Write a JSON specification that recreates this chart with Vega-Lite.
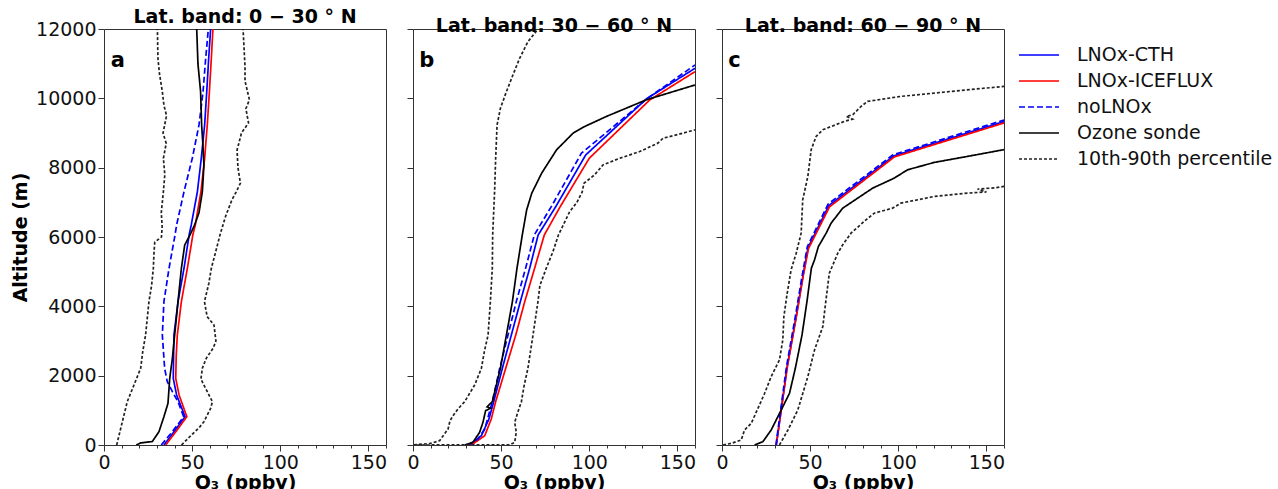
{
  "$schema": "https://vega.github.io/schema/vega-lite/v6.json",
  "padding": {"left": 11, "top": 7, "right": 5, "bottom": 0},
  "background": "white",
  "config": {
    "font": "DejaVu Sans",
    "view": {"stroke": "#333", "strokeWidth": 1},
    "axis": {"labelFont": "DejaVu Sans", "labelFontSize": 19, "labelColor": "#111", "titleFont": "DejaVu Sans", "titleFontSize": 19, "titleFontWeight": "bold", "titleColor": "#000", "grid": false, "domain": false, "tickColor": "#333", "labelOverlap": false},
    "title": {"font": "DejaVu Sans", "fontSize": 19, "fontWeight": "bold", "color": "#000", "offset": -7, "frame": "group", "baseline": "bottom"},
    "legend": {"labelFont": "DejaVu Sans", "labelFontSize": 19, "labelColor": "#111", "symbolType": "M-2,0L2,0", "symbolSize": 400, "labelLimit": 400, "orient": "none", "legendX": 924, "legendY": 15, "rowPadding": 5, "labelOffset": 27, "padding": 0}
  },
  "datasets": {
    "prof": [
      {"p":"a","s":"LNOx-CTH","l":"m","x":34,"y":0},{"p":"a","s":"LNOx-CTH","l":"m","x":40,"y":400},{"p":"a","s":"LNOx-CTH","l":"m","x":46,"y":817},{"p":"a","s":"LNOx-CTH","l":"m","x":41.2,"y":1442},{"p":"a","s":"LNOx-CTH","l":"m","x":39.3,"y":1923},{"p":"a","s":"LNOx-CTH","l":"m","x":39.5,"y":2600},{"p":"a","s":"LNOx-CTH","l":"m","x":39.7,"y":3174},{"p":"a","s":"LNOx-CTH","l":"m","x":42,"y":4136},{"p":"a","s":"LNOx-CTH","l":"m","x":45.4,"y":5098},{"p":"a","s":"LNOx-CTH","l":"m","x":48.3,"y":6058},{"p":"a","s":"LNOx-CTH","l":"m","x":49.5,"y":6347},{"p":"a","s":"LNOx-CTH","l":"m","x":53,"y":7310},{"p":"a","s":"LNOx-CTH","l":"m","x":55.2,"y":8271},{"p":"a","s":"LNOx-CTH","l":"m","x":57.1,"y":9232},{"p":"a","s":"LNOx-CTH","l":"m","x":58.3,"y":10193},{"p":"a","s":"LNOx-CTH","l":"m","x":59.4,"y":11155},{"p":"a","s":"LNOx-CTH","l":"m","x":60.5,"y":12000},
      {"p":"a","s":"LNOx-ICEFLUX","l":"m","x":35,"y":0},{"p":"a","s":"LNOx-ICEFLUX","l":"m","x":41,"y":400},{"p":"a","s":"LNOx-ICEFLUX","l":"m","x":47,"y":817},{"p":"a","s":"LNOx-ICEFLUX","l":"m","x":42.6,"y":1442},{"p":"a","s":"LNOx-ICEFLUX","l":"m","x":40.7,"y":1923},{"p":"a","s":"LNOx-ICEFLUX","l":"m","x":41,"y":2600},{"p":"a","s":"LNOx-ICEFLUX","l":"m","x":41.6,"y":3174},{"p":"a","s":"LNOx-ICEFLUX","l":"m","x":43.9,"y":4136},{"p":"a","s":"LNOx-ICEFLUX","l":"m","x":47.3,"y":5098},{"p":"a","s":"LNOx-ICEFLUX","l":"m","x":50.4,"y":6058},{"p":"a","s":"LNOx-ICEFLUX","l":"m","x":51.8,"y":6347},{"p":"a","s":"LNOx-ICEFLUX","l":"m","x":55,"y":7310},{"p":"a","s":"LNOx-ICEFLUX","l":"m","x":57.1,"y":8271},{"p":"a","s":"LNOx-ICEFLUX","l":"m","x":58.6,"y":9232},{"p":"a","s":"LNOx-ICEFLUX","l":"m","x":59.8,"y":10193},{"p":"a","s":"LNOx-ICEFLUX","l":"m","x":60.9,"y":11155},{"p":"a","s":"LNOx-ICEFLUX","l":"m","x":61.8,"y":12000},
      {"p":"a","s":"noLNOx","l":"m","x":32.5,"y":0},{"p":"a","s":"noLNOx","l":"m","x":39,"y":400},{"p":"a","s":"noLNOx","l":"m","x":45.2,"y":817},{"p":"a","s":"noLNOx","l":"m","x":42,"y":1250},{"p":"a","s":"noLNOx","l":"m","x":38.8,"y":1538},{"p":"a","s":"noLNOx","l":"m","x":35.9,"y":1827},{"p":"a","s":"noLNOx","l":"m","x":34.4,"y":2212},{"p":"a","s":"noLNOx","l":"m","x":33.1,"y":3174},{"p":"a","s":"noLNOx","l":"m","x":34,"y":4136},{"p":"a","s":"noLNOx","l":"m","x":36.9,"y":5098},{"p":"a","s":"noLNOx","l":"m","x":40.3,"y":6058},{"p":"a","s":"noLNOx","l":"m","x":41.2,"y":6347},{"p":"a","s":"noLNOx","l":"m","x":45.4,"y":7310},{"p":"a","s":"noLNOx","l":"m","x":50.1,"y":8271},{"p":"a","s":"noLNOx","l":"m","x":53.9,"y":9232},{"p":"a","s":"noLNOx","l":"m","x":56.2,"y":10193},{"p":"a","s":"noLNOx","l":"m","x":57.7,"y":11155},{"p":"a","s":"noLNOx","l":"m","x":59.2,"y":12000},
      {"p":"a","s":"Ozone sonde","l":"m","x":18.3,"y":0},{"p":"a","s":"Ozone sonde","l":"m","x":20.8,"y":60},{"p":"a","s":"Ozone sonde","l":"m","x":27.4,"y":100},{"p":"a","s":"Ozone sonde","l":"m","x":31.2,"y":384},{"p":"a","s":"Ozone sonde","l":"m","x":34,"y":817},{"p":"a","s":"Ozone sonde","l":"m","x":36.3,"y":1202},{"p":"a","s":"Ozone sonde","l":"m","x":37.3,"y":1923},{"p":"a","s":"Ozone sonde","l":"m","x":38.8,"y":2500},{"p":"a","s":"Ozone sonde","l":"m","x":40.1,"y":3174},{"p":"a","s":"Ozone sonde","l":"m","x":42,"y":4136},{"p":"a","s":"Ozone sonde","l":"m","x":43.9,"y":5098},{"p":"a","s":"Ozone sonde","l":"m","x":45.8,"y":5770},{"p":"a","s":"Ozone sonde","l":"m","x":48.8,"y":6058},{"p":"a","s":"Ozone sonde","l":"m","x":51.4,"y":6347},{"p":"a","s":"Ozone sonde","l":"m","x":53.9,"y":6700},{"p":"a","s":"Ozone sonde","l":"m","x":55.8,"y":7310},{"p":"a","s":"Ozone sonde","l":"m","x":56.7,"y":8079},{"p":"a","s":"Ozone sonde","l":"m","x":56,"y":8752},{"p":"a","s":"Ozone sonde","l":"m","x":55.4,"y":9232},{"p":"a","s":"Ozone sonde","l":"m","x":54.8,"y":10193},{"p":"a","s":"Ozone sonde","l":"m","x":53.3,"y":11000},{"p":"a","s":"Ozone sonde","l":"m","x":52.6,"y":12000},
      {"p":"a","s":"10th-90th percentile","l":"lo","x":7.2,"y":0},{"p":"a","s":"10th-90th percentile","l":"lo","x":9.5,"y":481},{"p":"a","s":"10th-90th percentile","l":"lo","x":13.2,"y":1250},{"p":"a","s":"10th-90th percentile","l":"lo","x":17,"y":1731},{"p":"a","s":"10th-90th percentile","l":"lo","x":20.8,"y":2212},{"p":"a","s":"10th-90th percentile","l":"lo","x":22,"y":2700},{"p":"a","s":"10th-90th percentile","l":"lo","x":23.6,"y":3174},{"p":"a","s":"10th-90th percentile","l":"lo","x":25.5,"y":4136},{"p":"a","s":"10th-90th percentile","l":"lo","x":27,"y":4600},{"p":"a","s":"10th-90th percentile","l":"lo","x":28,"y":5098},{"p":"a","s":"10th-90th percentile","l":"lo","x":28.4,"y":5577},{"p":"a","s":"10th-90th percentile","l":"lo","x":28.8,"y":5850},{"p":"a","s":"10th-90th percentile","l":"lo","x":32.6,"y":6000},{"p":"a","s":"10th-90th percentile","l":"lo","x":33,"y":6300},{"p":"a","s":"10th-90th percentile","l":"lo","x":32.5,"y":6700},{"p":"a","s":"10th-90th percentile","l":"lo","x":33.7,"y":7310},{"p":"a","s":"10th-90th percentile","l":"lo","x":34.5,"y":7800},{"p":"a","s":"10th-90th percentile","l":"lo","x":33.7,"y":8271},{"p":"a","s":"10th-90th percentile","l":"lo","x":35.3,"y":8700},{"p":"a","s":"10th-90th percentile","l":"lo","x":33.5,"y":9000},{"p":"a","s":"10th-90th percentile","l":"lo","x":35.5,"y":9500},{"p":"a","s":"10th-90th percentile","l":"lo","x":34,"y":9800},{"p":"a","s":"10th-90th percentile","l":"lo","x":33.1,"y":10193},{"p":"a","s":"10th-90th percentile","l":"lo","x":31.5,"y":10700},{"p":"a","s":"10th-90th percentile","l":"lo","x":30.6,"y":11155},{"p":"a","s":"10th-90th percentile","l":"lo","x":30.3,"y":12000},
      {"p":"a","s":"10th-90th percentile","l":"hi","x":44,"y":0},{"p":"a","s":"10th-90th percentile","l":"hi","x":49.2,"y":269},{"p":"a","s":"10th-90th percentile","l":"hi","x":54,"y":500},{"p":"a","s":"10th-90th percentile","l":"hi","x":56.7,"y":673},{"p":"a","s":"10th-90th percentile","l":"hi","x":60.5,"y":1058},{"p":"a","s":"10th-90th percentile","l":"hi","x":61.5,"y":1250},{"p":"a","s":"10th-90th percentile","l":"hi","x":58.6,"y":1538},{"p":"a","s":"10th-90th percentile","l":"hi","x":55,"y":1900},{"p":"a","s":"10th-90th percentile","l":"hi","x":55.8,"y":2212},{"p":"a","s":"10th-90th percentile","l":"hi","x":58,"y":2500},{"p":"a","s":"10th-90th percentile","l":"hi","x":62,"y":2800},{"p":"a","s":"10th-90th percentile","l":"hi","x":63.5,"y":3000},{"p":"a","s":"10th-90th percentile","l":"hi","x":62.4,"y":3462},{"p":"a","s":"10th-90th percentile","l":"hi","x":58.5,"y":3705},{"p":"a","s":"10th-90th percentile","l":"hi","x":57,"y":4136},{"p":"a","s":"10th-90th percentile","l":"hi","x":59.5,"y":4667},{"p":"a","s":"10th-90th percentile","l":"hi","x":60.9,"y":5098},{"p":"a","s":"10th-90th percentile","l":"hi","x":63.5,"y":5600},{"p":"a","s":"10th-90th percentile","l":"hi","x":65.8,"y":6058},{"p":"a","s":"10th-90th percentile","l":"hi","x":69,"y":6600},{"p":"a","s":"10th-90th percentile","l":"hi","x":72.6,"y":7073},{"p":"a","s":"10th-90th percentile","l":"hi","x":75,"y":7300},{"p":"a","s":"10th-90th percentile","l":"hi","x":77.4,"y":7554},{"p":"a","s":"10th-90th percentile","l":"hi","x":76,"y":8000},{"p":"a","s":"10th-90th percentile","l":"hi","x":75.5,"y":8517},{"p":"a","s":"10th-90th percentile","l":"hi","x":76.5,"y":8700},{"p":"a","s":"10th-90th percentile","l":"hi","x":78,"y":9000},{"p":"a","s":"10th-90th percentile","l":"hi","x":82,"y":9290},{"p":"a","s":"10th-90th percentile","l":"hi","x":80.5,"y":9700},{"p":"a","s":"10th-90th percentile","l":"hi","x":82.5,"y":9960},{"p":"a","s":"10th-90th percentile","l":"hi","x":80,"y":10500},{"p":"a","s":"10th-90th percentile","l":"hi","x":80,"y":10922},{"p":"a","s":"10th-90th percentile","l":"hi","x":78.9,"y":12000},

      {"p":"b","s":"LNOx-CTH","l":"m","x":32.2,"y":0},{"p":"b","s":"LNOx-CTH","l":"m","x":38.8,"y":269},{"p":"b","s":"LNOx-CTH","l":"m","x":43.1,"y":750},{"p":"b","s":"LNOx-CTH","l":"m","x":45.8,"y":1250},{"p":"b","s":"LNOx-CTH","l":"m","x":50.7,"y":2212},{"p":"b","s":"LNOx-CTH","l":"m","x":55.8,"y":3174},{"p":"b","s":"LNOx-CTH","l":"m","x":60.9,"y":4136},{"p":"b","s":"LNOx-CTH","l":"m","x":66.2,"y":5098},{"p":"b","s":"LNOx-CTH","l":"m","x":71,"y":6058},{"p":"b","s":"LNOx-CTH","l":"m","x":81,"y":6876},{"p":"b","s":"LNOx-CTH","l":"m","x":98,"y":8367},{"p":"b","s":"LNOx-CTH","l":"m","x":132.4,"y":9983},{"p":"b","s":"LNOx-CTH","l":"m","x":160,"y":10866},
      {"p":"b","s":"LNOx-ICEFLUX","l":"m","x":33.1,"y":0},{"p":"b","s":"LNOx-ICEFLUX","l":"m","x":40.7,"y":269},{"p":"b","s":"LNOx-ICEFLUX","l":"m","x":44.4,"y":750},{"p":"b","s":"LNOx-ICEFLUX","l":"m","x":46.9,"y":1250},{"p":"b","s":"LNOx-ICEFLUX","l":"m","x":52.6,"y":2212},{"p":"b","s":"LNOx-ICEFLUX","l":"m","x":58.3,"y":3174},{"p":"b","s":"LNOx-ICEFLUX","l":"m","x":63.4,"y":4136},{"p":"b","s":"LNOx-ICEFLUX","l":"m","x":69,"y":5098},{"p":"b","s":"LNOx-ICEFLUX","l":"m","x":74.5,"y":6058},{"p":"b","s":"LNOx-ICEFLUX","l":"m","x":83.2,"y":6847},{"p":"b","s":"LNOx-ICEFLUX","l":"m","x":100,"y":8271},{"p":"b","s":"LNOx-ICEFLUX","l":"m","x":134.3,"y":9953},{"p":"b","s":"LNOx-ICEFLUX","l":"m","x":160,"y":10770},
      {"p":"b","s":"noLNOx","l":"m","x":31.2,"y":0},{"p":"b","s":"noLNOx","l":"m","x":36.9,"y":173},{"p":"b","s":"noLNOx","l":"m","x":40.7,"y":461},{"p":"b","s":"noLNOx","l":"m","x":45,"y":1250},{"p":"b","s":"noLNOx","l":"m","x":49.2,"y":2212},{"p":"b","s":"noLNOx","l":"m","x":53.9,"y":3174},{"p":"b","s":"noLNOx","l":"m","x":58.6,"y":4136},{"p":"b","s":"noLNOx","l":"m","x":63.9,"y":5098},{"p":"b","s":"noLNOx","l":"m","x":68.8,"y":6058},{"p":"b","s":"noLNOx","l":"m","x":79,"y":6924},{"p":"b","s":"noLNOx","l":"m","x":95.6,"y":8420},{"p":"b","s":"noLNOx","l":"m","x":133,"y":10000},{"p":"b","s":"noLNOx","l":"m","x":160,"y":10962},
      {"p":"b","s":"Ozone sonde","l":"m","x":29.3,"y":0},{"p":"b","s":"Ozone sonde","l":"m","x":34,"y":77},{"p":"b","s":"Ozone sonde","l":"m","x":37.8,"y":366},{"p":"b","s":"Ozone sonde","l":"m","x":39.7,"y":654},{"p":"b","s":"Ozone sonde","l":"m","x":41.2,"y":990},{"p":"b","s":"Ozone sonde","l":"m","x":44,"y":1060},{"p":"b","s":"Ozone sonde","l":"m","x":42,"y":1100},{"p":"b","s":"Ozone sonde","l":"m","x":45,"y":1250},{"p":"b","s":"Ozone sonde","l":"m","x":47.3,"y":1731},{"p":"b","s":"Ozone sonde","l":"m","x":49.6,"y":2212},{"p":"b","s":"Ozone sonde","l":"m","x":53,"y":3174},{"p":"b","s":"Ozone sonde","l":"m","x":56.4,"y":4136},{"p":"b","s":"Ozone sonde","l":"m","x":59,"y":5098},{"p":"b","s":"Ozone sonde","l":"m","x":62,"y":6058},{"p":"b","s":"Ozone sonde","l":"m","x":64.5,"y":6784},{"p":"b","s":"Ozone sonde","l":"m","x":67.4,"y":7265},{"p":"b","s":"Ozone sonde","l":"m","x":73,"y":7842},{"p":"b","s":"Ozone sonde","l":"m","x":81.5,"y":8517},{"p":"b","s":"Ozone sonde","l":"m","x":90.9,"y":8998},{"p":"b","s":"Ozone sonde","l":"m","x":97.5,"y":9190},{"p":"b","s":"Ozone sonde","l":"m","x":109.8,"y":9479},{"p":"b","s":"Ozone sonde","l":"m","x":132.5,"y":9960},{"p":"b","s":"Ozone sonde","l":"m","x":160,"y":10385},
      {"p":"b","s":"10th-90th percentile","l":"lo","x":0.5,"y":8},{"p":"b","s":"10th-90th percentile","l":"lo","x":2,"y":15},{"p":"b","s":"10th-90th percentile","l":"lo","x":9.5,"y":40},{"p":"b","s":"10th-90th percentile","l":"lo","x":15.1,"y":125},{"p":"b","s":"10th-90th percentile","l":"lo","x":19.9,"y":461},{"p":"b","s":"10th-90th percentile","l":"lo","x":21,"y":700},{"p":"b","s":"10th-90th percentile","l":"lo","x":22.7,"y":846},{"p":"b","s":"10th-90th percentile","l":"lo","x":25.5,"y":1039},{"p":"b","s":"10th-90th percentile","l":"lo","x":29.3,"y":1250},{"p":"b","s":"10th-90th percentile","l":"lo","x":35,"y":1731},{"p":"b","s":"10th-90th percentile","l":"lo","x":38.8,"y":2212},{"p":"b","s":"10th-90th percentile","l":"lo","x":40.5,"y":2700},{"p":"b","s":"10th-90th percentile","l":"lo","x":42.6,"y":3174},{"p":"b","s":"10th-90th percentile","l":"lo","x":43.9,"y":4136},{"p":"b","s":"10th-90th percentile","l":"lo","x":45,"y":5098},{"p":"b","s":"10th-90th percentile","l":"lo","x":45.2,"y":6058},{"p":"b","s":"10th-90th percentile","l":"lo","x":46.3,"y":7310},{"p":"b","s":"10th-90th percentile","l":"lo","x":46.9,"y":8271},{"p":"b","s":"10th-90th percentile","l":"lo","x":47.7,"y":9232},{"p":"b","s":"10th-90th percentile","l":"lo","x":49.6,"y":9713},{"p":"b","s":"10th-90th percentile","l":"lo","x":53,"y":10193},{"p":"b","s":"10th-90th percentile","l":"lo","x":56.7,"y":10674},{"p":"b","s":"10th-90th percentile","l":"lo","x":60.5,"y":11155},{"p":"b","s":"10th-90th percentile","l":"lo","x":65.2,"y":11636},{"p":"b","s":"10th-90th percentile","l":"lo","x":71,"y":12000},
      {"p":"b","s":"10th-90th percentile","l":"hi","x":2,"y":0},{"p":"b","s":"10th-90th percentile","l":"hi","x":55,"y":5},{"p":"b","s":"10th-90th percentile","l":"hi","x":57.7,"y":77},{"p":"b","s":"10th-90th percentile","l":"hi","x":58.6,"y":366},{"p":"b","s":"10th-90th percentile","l":"hi","x":57.7,"y":654},{"p":"b","s":"10th-90th percentile","l":"hi","x":59.5,"y":950},{"p":"b","s":"10th-90th percentile","l":"hi","x":61.5,"y":1250},{"p":"b","s":"10th-90th percentile","l":"hi","x":63,"y":1700},{"p":"b","s":"10th-90th percentile","l":"hi","x":65.2,"y":2212},{"p":"b","s":"10th-90th percentile","l":"hi","x":68.1,"y":3174},{"p":"b","s":"10th-90th percentile","l":"hi","x":70.9,"y":4136},{"p":"b","s":"10th-90th percentile","l":"hi","x":72,"y":4600},{"p":"b","s":"10th-90th percentile","l":"hi","x":75.6,"y":5098},{"p":"b","s":"10th-90th percentile","l":"hi","x":79.4,"y":5577},{"p":"b","s":"10th-90th percentile","l":"hi","x":82.5,"y":6058},{"p":"b","s":"10th-90th percentile","l":"hi","x":88.9,"y":6732},{"p":"b","s":"10th-90th percentile","l":"hi","x":93,"y":7000},{"p":"b","s":"10th-90th percentile","l":"hi","x":96,"y":7300},{"p":"b","s":"10th-90th percentile","l":"hi","x":97,"y":7550},{"p":"b","s":"10th-90th percentile","l":"hi","x":103,"y":7791},{"p":"b","s":"10th-90th percentile","l":"hi","x":107.8,"y":8079},{"p":"b","s":"10th-90th percentile","l":"hi","x":117.3,"y":8271},{"p":"b","s":"10th-90th percentile","l":"hi","x":128.6,"y":8464},{"p":"b","s":"10th-90th percentile","l":"hi","x":139,"y":8709},{"p":"b","s":"10th-90th percentile","l":"hi","x":141.9,"y":8850},{"p":"b","s":"10th-90th percentile","l":"hi","x":149.4,"y":8945},{"p":"b","s":"10th-90th percentile","l":"hi","x":160,"y":9090},

      {"p":"c","s":"LNOx-CTH","l":"m","x":30.8,"y":0},{"p":"c","s":"LNOx-CTH","l":"m","x":37,"y":2262},{"p":"c","s":"LNOx-CTH","l":"m","x":42.1,"y":3705},{"p":"c","s":"LNOx-CTH","l":"m","x":45.9,"y":4860},{"p":"c","s":"LNOx-CTH","l":"m","x":48.8,"y":5690},{"p":"c","s":"LNOx-CTH","l":"m","x":60.7,"y":6910},{"p":"c","s":"LNOx-CTH","l":"m","x":97.5,"y":8340},{"p":"c","s":"LNOx-CTH","l":"m","x":160,"y":9330},
      {"p":"c","s":"LNOx-ICEFLUX","l":"m","x":30.8,"y":0},{"p":"c","s":"LNOx-ICEFLUX","l":"m","x":37.1,"y":2262},{"p":"c","s":"LNOx-ICEFLUX","l":"m","x":42.2,"y":3705},{"p":"c","s":"LNOx-ICEFLUX","l":"m","x":46,"y":4860},{"p":"c","s":"LNOx-ICEFLUX","l":"m","x":49.1,"y":5670},{"p":"c","s":"LNOx-ICEFLUX","l":"m","x":61,"y":6870},{"p":"c","s":"LNOx-ICEFLUX","l":"m","x":97.8,"y":8310},{"p":"c","s":"LNOx-ICEFLUX","l":"m","x":160,"y":9290},
      {"p":"c","s":"noLNOx","l":"m","x":30.6,"y":0},{"p":"c","s":"noLNOx","l":"m","x":36.6,"y":2262},{"p":"c","s":"noLNOx","l":"m","x":41.6,"y":3705},{"p":"c","s":"noLNOx","l":"m","x":45.4,"y":4860},{"p":"c","s":"noLNOx","l":"m","x":48.4,"y":5720},{"p":"c","s":"noLNOx","l":"m","x":60.2,"y":6950},{"p":"c","s":"noLNOx","l":"m","x":97,"y":8370},{"p":"c","s":"noLNOx","l":"m","x":160,"y":9375},
      {"p":"c","s":"Ozone sonde","l":"m","x":18.5,"y":0},{"p":"c","s":"Ozone sonde","l":"m","x":23.2,"y":96},{"p":"c","s":"Ozone sonde","l":"m","x":27.9,"y":433},{"p":"c","s":"Ozone sonde","l":"m","x":33.6,"y":1010},{"p":"c","s":"Ozone sonde","l":"m","x":38.3,"y":1492},{"p":"c","s":"Ozone sonde","l":"m","x":41.6,"y":2212},{"p":"c","s":"Ozone sonde","l":"m","x":45.4,"y":3174},{"p":"c","s":"Ozone sonde","l":"m","x":48.2,"y":4136},{"p":"c","s":"Ozone sonde","l":"m","x":50.7,"y":5098},{"p":"c","s":"Ozone sonde","l":"m","x":52.5,"y":5341},{"p":"c","s":"Ozone sonde","l":"m","x":54.7,"y":5726},{"p":"c","s":"Ozone sonde","l":"m","x":59.1,"y":6110},{"p":"c","s":"Ozone sonde","l":"m","x":61.9,"y":6399},{"p":"c","s":"Ozone sonde","l":"m","x":68.5,"y":6832},{"p":"c","s":"Ozone sonde","l":"m","x":77,"y":7121},{"p":"c","s":"Ozone sonde","l":"m","x":85.5,"y":7410},{"p":"c","s":"Ozone sonde","l":"m","x":97.7,"y":7698},{"p":"c","s":"Ozone sonde","l":"m","x":105.3,"y":7939},{"p":"c","s":"Ozone sonde","l":"m","x":120.4,"y":8151},{"p":"c","s":"Ozone sonde","l":"m","x":139.2,"y":8324},{"p":"c","s":"Ozone sonde","l":"m","x":160,"y":8520},
      {"p":"c","s":"10th-90th percentile","l":"lo","x":0.6,"y":0},{"p":"c","s":"10th-90th percentile","l":"lo","x":5.3,"y":48},{"p":"c","s":"10th-90th percentile","l":"lo","x":10.9,"y":144},{"p":"c","s":"10th-90th percentile","l":"lo","x":12.8,"y":433},{"p":"c","s":"10th-90th percentile","l":"lo","x":16.6,"y":625},{"p":"c","s":"10th-90th percentile","l":"lo","x":24.2,"y":1492},{"p":"c","s":"10th-90th percentile","l":"lo","x":27.9,"y":1973},{"p":"c","s":"10th-90th percentile","l":"lo","x":32.6,"y":2454},{"p":"c","s":"10th-90th percentile","l":"lo","x":34.5,"y":3031},{"p":"c","s":"10th-90th percentile","l":"lo","x":35.1,"y":3705},{"p":"c","s":"10th-90th percentile","l":"lo","x":37,"y":4378},{"p":"c","s":"10th-90th percentile","l":"lo","x":39.2,"y":5052},{"p":"c","s":"10th-90th percentile","l":"lo","x":42.1,"y":5533},{"p":"c","s":"10th-90th percentile","l":"lo","x":44.9,"y":6110},{"p":"c","s":"10th-90th percentile","l":"lo","x":45.8,"y":7073},{"p":"c","s":"10th-90th percentile","l":"lo","x":48.7,"y":7746},{"p":"c","s":"10th-90th percentile","l":"lo","x":50.6,"y":8516},{"p":"c","s":"10th-90th percentile","l":"lo","x":53.4,"y":8901},{"p":"c","s":"10th-90th percentile","l":"lo","x":57.2,"y":9094},{"p":"c","s":"10th-90th percentile","l":"lo","x":69.4,"y":9334},{"p":"c","s":"10th-90th percentile","l":"lo","x":74,"y":9400},{"p":"c","s":"10th-90th percentile","l":"lo","x":70.5,"y":9480},{"p":"c","s":"10th-90th percentile","l":"lo","x":74.2,"y":9527},{"p":"c","s":"10th-90th percentile","l":"lo","x":78.9,"y":9767},{"p":"c","s":"10th-90th percentile","l":"lo","x":82.6,"y":9911},{"p":"c","s":"10th-90th percentile","l":"lo","x":101.5,"y":10056},{"p":"c","s":"10th-90th percentile","l":"lo","x":130,"y":10200},{"p":"c","s":"10th-90th percentile","l":"lo","x":160,"y":10345},
      {"p":"c","s":"10th-90th percentile","l":"hi","x":32.6,"y":0},{"p":"c","s":"10th-90th percentile","l":"hi","x":37.4,"y":433},{"p":"c","s":"10th-90th percentile","l":"hi","x":43,"y":1010},{"p":"c","s":"10th-90th percentile","l":"hi","x":48.7,"y":1973},{"p":"c","s":"10th-90th percentile","l":"hi","x":52.5,"y":2742},{"p":"c","s":"10th-90th percentile","l":"hi","x":57.2,"y":3416},{"p":"c","s":"10th-90th percentile","l":"hi","x":59,"y":4186},{"p":"c","s":"10th-90th percentile","l":"hi","x":60.9,"y":4956},{"p":"c","s":"10th-90th percentile","l":"hi","x":65.7,"y":5533},{"p":"c","s":"10th-90th percentile","l":"hi","x":68.5,"y":5774},{"p":"c","s":"10th-90th percentile","l":"hi","x":73.2,"y":6110},{"p":"c","s":"10th-90th percentile","l":"hi","x":81.7,"y":6496},{"p":"c","s":"10th-90th percentile","l":"hi","x":86.4,"y":6688},{"p":"c","s":"10th-90th percentile","l":"hi","x":96.8,"y":6832},{"p":"c","s":"10th-90th percentile","l":"hi","x":101.5,"y":6977},{"p":"c","s":"10th-90th percentile","l":"hi","x":120.4,"y":7169},{"p":"c","s":"10th-90th percentile","l":"hi","x":139.2,"y":7265},{"p":"c","s":"10th-90th percentile","l":"hi","x":150,"y":7300},{"p":"c","s":"10th-90th percentile","l":"hi","x":145,"y":7380},{"p":"c","s":"10th-90th percentile","l":"hi","x":155,"y":7420},{"p":"c","s":"10th-90th percentile","l":"hi","x":160,"y":7458}
    ],
    "letters": [
      {"p":"a","t":"a","x":3.8,"y":10900},
      {"p":"b","t":"b","x":3.5,"y":10900},
      {"p":"c","t":"c","x":3.5,"y":10900}
    ]
  },
  "spacing": 18,
  "resolve": {"scale": {"x": "independent", "y": "independent"}},
  "hconcat": [
    {
      "width": 282, "height": 416,
      "title": {"text": "Lat. band: 0 − 30 ° N"},
      "resolve": {"axis": {"x": "independent"}},
      "layer": [
        {
          "data": {"name": "prof"},
          "transform": [{"filter": "datum.p === 'a'"}],
          "mark": {"type": "line", "clip": true},
          "encoding": {
            "x": {"field": "x", "type": "quantitative", "scale": {"domain": [0, 160], "nice": false}, "axis": {"orient": "bottom", "title": "O₃ (ppbv)", "labelFlush": false, "values": [0,50,100,150], "format": "d", "tickSize": 6, "labelPadding": 2, "titlePadding": 1}},
            "y": {"field": "y", "type": "quantitative", "scale": {"domain": [0, 12000], "nice": false}, "axis": {"title": "Altitude (m)", "labelOverlap": false, "labelFlush": false, "values": [0,500,1000,1500,2000,2500,3000,3500,4000,4500,5000,5500,6000,6500,7000,7500,8000,8500,9000,9500,10000,10500,11000,11500,12000], "labelExpr": "datum.value % 2000 === 0 ? format(datum.value, 'd') : ''", "tickSize": {"condition": {"test": "datum.value % 2000 === 0", "value": 6}, "value": 3}, "labelPadding": 2, "titlePadding": 5}},
            "color": {"field": "s", "type": "nominal", "scale": {"domain": ["LNOx-CTH","LNOx-ICEFLUX","noLNOx","Ozone sonde","10th-90th percentile"], "range": ["#0000ff","#ff0000","#0000ff","#000000","#222222"]}, "legend": {"title": null}},
            "strokeDash": {"field": "s", "type": "nominal", "scale": {"domain": ["LNOx-CTH","LNOx-ICEFLUX","noLNOx","Ozone sonde","10th-90th percentile"], "range": [[1,0],[1,0],[6,3],[1,0],[3,2]]}, "legend": {"title": null}},
            "strokeWidth": {"field": "s", "type": "nominal", "scale": {"domain": ["LNOx-CTH","LNOx-ICEFLUX","noLNOx","Ozone sonde","10th-90th percentile"], "range": [1.7,1.7,1.9,2,0.8]}, "legend": {"title": null}},
            "detail": {"field": "l"},
            "order": {"field": "y", "type": "quantitative"}
          }
        },
        {
          "data": {"name": "letters"},
          "transform": [{"filter": "datum.p === 'a'"}],
          "mark": {"type": "text", "align": "left", "baseline": "alphabetic", "fontSize": 21, "fontWeight": "bold", "font": "DejaVu Sans", "color": "#000"},
          "encoding": {"x": {"field": "x", "type": "quantitative", "axis": {"orient": "bottom", "title": null, "labels": false, "values": [0,10,20,30,40,60,70,80,90,110,120,130,140,160], "tickSize": 3}}, "y": {"field": "y", "type": "quantitative"}, "text": {"field": "t"}}
        }
      ]
    },
    {
      "width": 282, "height": 416,
      "title": {"text": "Lat. band: 30 − 60 ° N"},
      "resolve": {"axis": {"x": "independent"}},
      "layer": [
        {
          "data": {"name": "prof"},
          "transform": [{"filter": "datum.p === 'b'"}],
          "mark": {"type": "line", "clip": true},
          "encoding": {
            "x": {"field": "x", "type": "quantitative", "scale": {"domain": [0, 160], "nice": false}, "axis": {"orient": "bottom", "title": "O₃ (ppbv)", "labelFlush": false, "values": [0,50,100,150], "format": "d", "tickSize": 6, "labelPadding": 2, "titlePadding": 1}},
            "y": {"field": "y", "type": "quantitative", "scale": {"domain": [0, 12000], "nice": false}, "axis": {"title": null, "labels": false, "values": [0,500,1000,1500,2000,2500,3000,3500,4000,4500,5000,5500,6000,6500,7000,7500,8000,8500,9000,9500,10000,10500,11000,11500,12000], "tickSize": {"condition": {"test": "datum.value % 2000 === 0", "value": 6}, "value": 3}}},
            "color": {"field": "s", "type": "nominal", "scale": {"domain": ["LNOx-CTH","LNOx-ICEFLUX","noLNOx","Ozone sonde","10th-90th percentile"], "range": ["#0000ff","#ff0000","#0000ff","#000000","#222222"]}, "legend": {"title": null}},
            "strokeDash": {"field": "s", "type": "nominal", "scale": {"domain": ["LNOx-CTH","LNOx-ICEFLUX","noLNOx","Ozone sonde","10th-90th percentile"], "range": [[1,0],[1,0],[6,3],[1,0],[3,2]]}, "legend": {"title": null}},
            "strokeWidth": {"field": "s", "type": "nominal", "scale": {"domain": ["LNOx-CTH","LNOx-ICEFLUX","noLNOx","Ozone sonde","10th-90th percentile"], "range": [1.7,1.7,1.9,2,0.8]}, "legend": {"title": null}},
            "detail": {"field": "l"},
            "order": {"field": "y", "type": "quantitative"}
          }
        },
        {
          "data": {"name": "letters"},
          "transform": [{"filter": "datum.p === 'b'"}],
          "mark": {"type": "text", "align": "left", "baseline": "alphabetic", "fontSize": 21, "fontWeight": "bold", "font": "DejaVu Sans", "color": "#000"},
          "encoding": {"x": {"field": "x", "type": "quantitative", "axis": {"orient": "bottom", "title": null, "labels": false, "values": [0,10,20,30,40,60,70,80,90,110,120,130,140,160], "tickSize": 3}}, "y": {"field": "y", "type": "quantitative"}, "text": {"field": "t"}}
        }
      ]
    },
    {
      "width": 282, "height": 416,
      "title": {"text": "Lat. band: 60 − 90 ° N"},
      "resolve": {"axis": {"x": "independent"}},
      "layer": [
        {
          "data": {"name": "prof"},
          "transform": [{"filter": "datum.p === 'c'"}],
          "mark": {"type": "line", "clip": true},
          "encoding": {
            "x": {"field": "x", "type": "quantitative", "scale": {"domain": [0, 160], "nice": false}, "axis": {"orient": "bottom", "title": "O₃ (ppbv)", "labelFlush": false, "values": [0,50,100,150], "format": "d", "tickSize": 6, "labelPadding": 2, "titlePadding": 1}},
            "y": {"field": "y", "type": "quantitative", "scale": {"domain": [0, 12000], "nice": false}, "axis": {"title": null, "labels": false, "values": [0,500,1000,1500,2000,2500,3000,3500,4000,4500,5000,5500,6000,6500,7000,7500,8000,8500,9000,9500,10000,10500,11000,11500,12000], "tickSize": {"condition": {"test": "datum.value % 2000 === 0", "value": 6}, "value": 3}}},
            "color": {"field": "s", "type": "nominal", "scale": {"domain": ["LNOx-CTH","LNOx-ICEFLUX","noLNOx","Ozone sonde","10th-90th percentile"], "range": ["#0000ff","#ff0000","#0000ff","#000000","#222222"]}, "legend": {"title": null}},
            "strokeDash": {"field": "s", "type": "nominal", "scale": {"domain": ["LNOx-CTH","LNOx-ICEFLUX","noLNOx","Ozone sonde","10th-90th percentile"], "range": [[1,0],[1,0],[6,3],[1,0],[3,2]]}, "legend": {"title": null}},
            "strokeWidth": {"field": "s", "type": "nominal", "scale": {"domain": ["LNOx-CTH","LNOx-ICEFLUX","noLNOx","Ozone sonde","10th-90th percentile"], "range": [1.7,1.7,1.9,2,0.8]}, "legend": {"title": null}},
            "detail": {"field": "l"},
            "order": {"field": "y", "type": "quantitative"}
          }
        },
        {
          "data": {"name": "letters"},
          "transform": [{"filter": "datum.p === 'c'"}],
          "mark": {"type": "text", "align": "left", "baseline": "alphabetic", "fontSize": 21, "fontWeight": "bold", "font": "DejaVu Sans", "color": "#000"},
          "encoding": {"x": {"field": "x", "type": "quantitative", "axis": {"orient": "bottom", "title": null, "labels": false, "values": [0,10,20,30,40,60,70,80,90,110,120,130,140,160], "tickSize": 3}}, "y": {"field": "y", "type": "quantitative"}, "text": {"field": "t"}}
        }
      ]
    }
  ]
}
